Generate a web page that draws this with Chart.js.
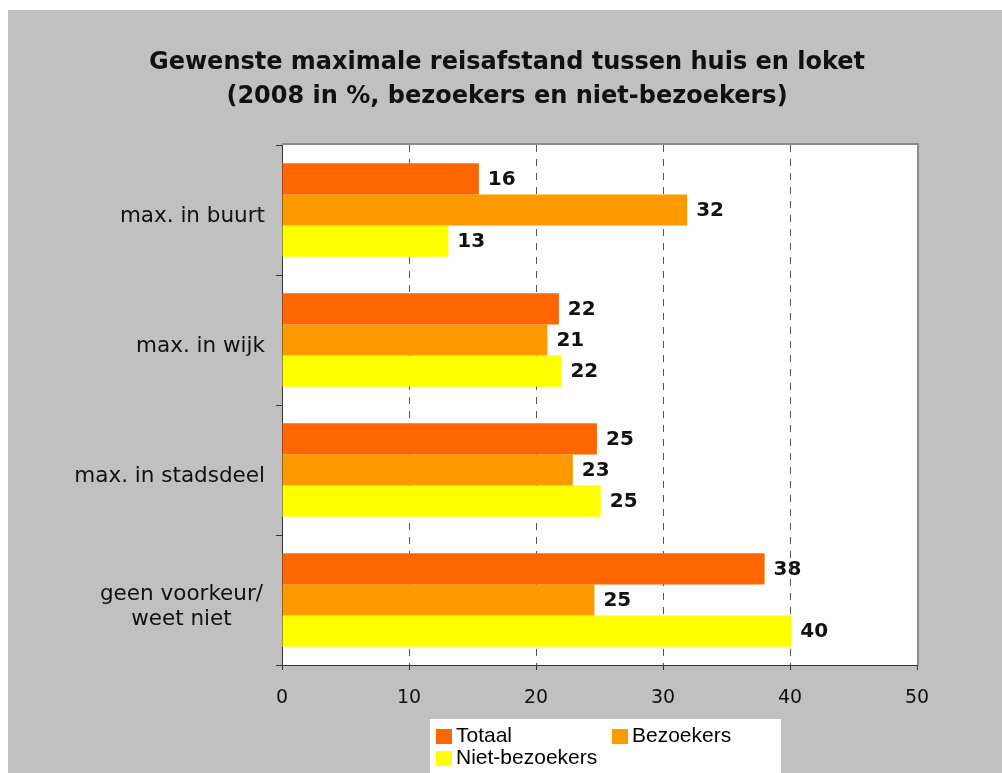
<!DOCTYPE html>
<html>
<head>
<meta charset="utf-8">
<script src="https://cdn.jsdelivr.net/npm/chart.js@4.4.1/dist/chart.umd.min.js"></script>
<style>
  html, body { margin: 0; padding: 0; background: #ffffff; }
  #wrap { position: absolute; left: 8px; top: 10px; width: 994px; height: 763px; background: #C0C0C0; }
  canvas { display: block; }
</style>
</head>
<body>
<div id="wrap"><canvas id="c" width="994" height="763"></canvas></div>
<script>
const titleLines = ['Gewenste maximale reisafstand tussen huis en loket', '(2008 in %, bezoekers en niet-bezoekers)'];
const categories = ['max. in buurt', 'max. in wijk', 'max. in stadsdeel', ['geen voorkeur/', 'weet niet']];
const seriesNames = ['Totaal', 'Bezoekers', 'Niet-bezoekers'];
const totaal = [15.5, 21.8, 24.8, 38.0];
const bezoekers = [31.9, 20.9, 22.9, 24.6];
const nietBezoekers = [13.1, 22.0, 25.1, 40.1];
const seriesColors = ['#FF6600', '#FF9900', '#FFFF00'];
const xTicks = [0, 10, 20, 30, 40, 50];

const bgPlugin = {
  id: 'bgPlugin',
  beforeDraw(chart) {
    const {ctx, chartArea: a} = chart;
    ctx.save();
    ctx.fillStyle = '#ffffff';
    ctx.fillRect(a.left, a.top, a.right - a.left, a.bottom - a.top);
    // value labels (drawn under gridlines, as in reference)
    ctx.font = 'bold 20px "DejaVu Sans"';
    ctx.fillStyle = '#111111';
    ctx.textAlign = 'left';
    ctx.textBaseline = 'middle';
    chart.data.datasets.forEach((ds, di) => {
      const meta = chart.getDatasetMeta(di);
      meta.data.forEach((bar, i) => {
        ctx.fillText(String(Math.round(ds.data[i])), bar.x + 9, bar.y + 1);
      });
    });
    ctx.restore();
  },
  afterDraw(chart) {
    const {ctx, chartArea: a} = chart;
    ctx.save();
    // top & right border of plot area
    ctx.strokeStyle = '#8a8a8a';
    ctx.lineWidth = 2;
    ctx.beginPath();
    ctx.moveTo(a.left, a.top - 1);
    ctx.lineTo(a.right + 1, a.top - 1);
    ctx.lineTo(a.right + 1, a.bottom);
    ctx.stroke();
    // category labels
    const ys = chart.scales.y;
    ctx.font = '21.5px "DejaVu Sans"';
    ctx.fillStyle = '#111111';
    ctx.textBaseline = 'alphabetic';
    chart.data.labels.forEach((lab, i) => {
      const cy = ys.getPixelForValue(i);
      const lines = Array.isArray(lab) ? lab : [lab];
      if (lines.length === 1) {
        ctx.textAlign = 'right';
        ctx.fillText(lines[0], 257, cy + 12);
      } else {
        const w = Math.max(...lines.map(l => ctx.measureText(l).width));
        const cx = 255 - w / 2;
        ctx.textAlign = 'center';
        lines.forEach((l, k) => {
          ctx.fillText(l, cx, cy + 12 - (lines.length - 1) * 12.5 + k * 25);
        });
      }
    });
    // legend
    ctx.fillStyle = '#ffffff';
    ctx.fillRect(422, 709, 351, 54);
    const pos = [[428, 719], [604, 719], [428, 741]];
    ctx.font = '21px "Liberation Sans"';
    ctx.textAlign = 'left';
    chart.data.datasets.forEach((ds, di) => {
      const [x, y] = pos[di];
      ctx.fillStyle = ds.backgroundColor;
      ctx.fillRect(x, y, 16, 15);
      ctx.fillStyle = '#000000';
      ctx.fillText(ds.label, x + 20, y + 13);
    });
    ctx.restore();
  }
};

const datasetValues = [totaal, bezoekers, nietBezoekers];

new Chart(document.getElementById('c'), {
  type: 'bar',
  data: {
    labels: categories,
    datasets: seriesNames.map((n, i) => ({
      label: n,
      data: datasetValues[i],
      backgroundColor: seriesColors[i],
      borderWidth: 0,
      categoryPercentage: 0.72,
      barPercentage: 1.0
    }))
  },
  options: {
    indexAxis: 'y',
    responsive: false,
    animation: false,
    devicePixelRatio: 1,
    layout: { padding: { left: 89, right: 85, top: 0, bottom: 58 } },
    plugins: {
      legend: { display: false },
      tooltip: { enabled: false },
      title: {
        display: true,
        text: titleLines,
        color: '#111111',
        font: { family: 'DejaVu Sans', size: 24, weight: 'bold', lineHeight: 34 / 24 },
        padding: { top: 36, bottom: 31 }
      }
    },
    scales: {
      x: {
        type: 'linear',
        min: 0,
        max: 50,
        afterBuildTicks(scale) { scale.ticks = xTicks.map(v => ({ value: v })); },
        afterFit(scale) { scale.height = 50; },
        ticks: {
          color: '#111111',
          font: { family: 'DejaVu Sans', size: 19 },
          padding: 17
        },
        grid: {
          color: (c) => (c.tick && (c.tick.value === 0 || c.tick.value === 50)) ? 'rgba(0,0,0,0)' : '#555555',
          tickColor: '#333333',
          tickLength: 5,
          lineWidth: 1
        },
        border: { display: true, color: '#333333', width: 1, dash: [7, 7] }
      },
      y: {
        type: 'category',
        afterFit(scale) { scale.width = 185; },
        ticks: { display: false },
        grid: {
          drawOnChartArea: false,
          drawTicks: true,
          tickLength: 6,
          tickColor: '#333333',
          color: '#333333'
        },
        border: { display: true, color: '#333333', width: 1 }
      }
    }
  },
  plugins: [bgPlugin]
});
</script>
</body>
</html>
